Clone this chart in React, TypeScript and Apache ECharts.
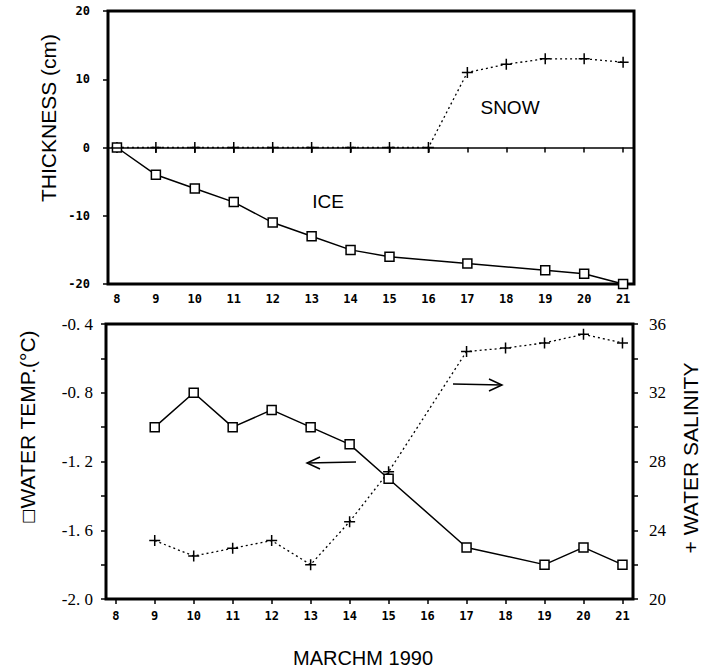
import React, { useEffect, useRef } from "react";
import * as echarts from "echarts";

const days = [8, 9, 10, 11, 12, 13, 14, 15, 16, 17, 18, 19, 20, 21];

const iceDays = [8, 9, 10, 11, 12, 13, 14, 15, 17, 19, 20, 21];
const iceThickness = [0, -4, -6, -8, -11, -13, -15, -16, -17, -18, -18.5, -20];

const snowDays = [8, 9, 10, 11, 12, 13, 14, 15, 16, 17, 18, 19, 20, 21];
const snowThickness = [0, 0, 0, 0, 0, 0, 0, 0, 0, 11, 12.2, 13, 13, 12.5];

const tempDays = [9, 10, 11, 12, 13, 14, 15, 17, 19, 20, 21];
const waterTemp = [-1.0, -0.8, -1.0, -0.9, -1.0, -1.1, -1.3, -1.7, -1.8, -1.7, -1.8];

const salDays = [9, 10, 11, 12, 13, 14, 15, 17, 18, 19, 20, 21];
const salinity = [23.4, 22.5, 22.95, 23.4, 22.0, 24.5, 27.4, 34.4, 34.6, 34.9, 35.4, 34.9];

const PLUS = "path://M0,5L10,5M5,0L5,10";

const zip = (xs: number[], ys: number[]) => xs.map((x, i) => [x, ys[i]]);

export default function App() {
  const ref = useRef<HTMLDivElement>(null);
  useEffect(() => {
    if (!ref.current) return;
    const chart = echarts.init(ref.current, null, { renderer: "svg" });
    const monoBold = { fontFamily: "DejaVu Sans Mono", fontWeight: "bold" as const, fontSize: 12, color: "#000" };
    const serifNum = { fontFamily: "Liberation Serif", fontSize: 17, color: "#000" };
    const tick = { show: true, inside: false, length: 5, lineStyle: { color: "#000", width: 1.5 } };
    const xCommon = (gi: number, min: number, max: number, margin: number) => ({
      type: "value" as const,
      gridIndex: gi,
      min,
      max,
      axisLine: { show: false },
      splitLine: { show: false },
      axisTick: { ...tick, customValues: days },
      axisLabel: { ...monoBold, customValues: days, margin },
    });
    const option: any = {
      animation: false,
      backgroundColor: "#fff",
      grid: [
        { left: 108, top: 11, width: 526, height: 273, show: true, borderColor: "#000", borderWidth: 3, backgroundColor: "transparent" },
        { left: 106, top: 324, width: 527, height: 275, show: true, borderColor: "#000", borderWidth: 3, backgroundColor: "transparent" },
      ],
      xAxis: [xCommon(0, 7.77, 21.28, 9), xCommon(1, 7.75, 21.27, 11)],
      yAxis: [
        {
          type: "value",
          gridIndex: 0,
          min: -20,
          max: 20,
          interval: 10,
          axisLine: { show: false },
          splitLine: { show: false },
          axisTick: tick,
          axisLabel: { ...monoBold, margin: 18 },
        },
        {
          type: "value",
          gridIndex: 1,
          min: -2.0,
          max: -0.4,
          interval: 0.2,
          axisLine: { show: false },
          splitLine: { show: false },
          axisTick: tick,
          axisLabel: {
            ...serifNum,
            margin: 13,
            formatter: (v: number) => {
              const k = Math.round((v + 2) / 0.2);
              return k % 2 === 0 ? v.toFixed(1).replace(".", ". ") : "";
            },
          },
        },
        {
          type: "value",
          gridIndex: 1,
          position: "right",
          min: 20,
          max: 36,
          interval: 2,
          axisLine: { show: false },
          splitLine: { show: false },
          axisTick: tick,
          axisLabel: {
            ...serifNum,
            margin: 16,
            formatter: (v: number) => (Math.round(v) % 4 === 0 ? String(v) : ""),
          },
        },
      ],
      series: [
        {
          name: "SNOW",
          type: "line",
          xAxisIndex: 0,
          yAxisIndex: 0,
          data: zip(snowDays, snowThickness),
          symbol: PLUS,
          symbolSize: 11,
          itemStyle: { color: "transparent", borderColor: "#000", borderWidth: 1.5 },
          lineStyle: { color: "#000", width: 1.3, type: [2, 3] },
          markLine: {
            silent: true,
            symbol: "none",
            label: { show: false },
            lineStyle: { color: "#000", width: 1.6, type: "solid" },
            data: [{ yAxis: 0 }],
          },
          z: 3,
        },
        {
          name: "ICE",
          type: "line",
          xAxisIndex: 0,
          yAxisIndex: 0,
          data: zip(iceDays, iceThickness),
          symbol: "rect",
          symbolSize: 9,
          itemStyle: { color: "#fff", borderColor: "#000", borderWidth: 1.5 },
          lineStyle: { color: "#000", width: 1.5 },
          z: 4,
        },
        {
          name: "WATER TEMP",
          type: "line",
          xAxisIndex: 1,
          yAxisIndex: 1,
          data: zip(tempDays, waterTemp),
          symbol: "rect",
          symbolSize: 9,
          itemStyle: { color: "#fff", borderColor: "#000", borderWidth: 1.5 },
          lineStyle: { color: "#000", width: 1.5 },
          z: 4,
        },
        {
          name: "WATER SALINITY",
          type: "line",
          xAxisIndex: 1,
          yAxisIndex: 2,
          data: zip(salDays, salinity),
          symbol: PLUS,
          symbolSize: 11,
          itemStyle: { color: "transparent", borderColor: "#000", borderWidth: 1.5 },
          lineStyle: { color: "#000", width: 1.3, type: [2, 3] },
          z: 3,
        },
      ],
      graphic: [
        {
          type: "text",
          x: 48,
          y: 118,
          rotation: Math.PI / 2,
          style: { text: "THICKNESS (cm)", fontFamily: "Liberation Sans", fontSize: 21, fill: "#000", align: "center", verticalAlign: "middle" },
        },
        {
          type: "text",
          x: 27,
          y: 427,
          rotation: Math.PI / 2,
          style: {
            text: "{sq|□}WATER TEMP.(°C)",
            fontFamily: "Liberation Sans",
            fontSize: 21,
            fill: "#000",
            align: "center",
            verticalAlign: "middle",
            rich: { sq: { fontFamily: "DejaVu Sans", fontSize: 16, fill: "#000" } },
          },
        },
        {
          type: "text",
          x: 690,
          y: 458,
          rotation: Math.PI / 2,
          style: { text: "+ WATER SALINITY", fontFamily: "Liberation Sans", fontSize: 21, fill: "#000", align: "center", verticalAlign: "middle" },
        },
        {
          type: "text",
          x: 363,
          y: 658,
          style: { text: "MARCHM 1990", fontFamily: "Liberation Sans", fontSize: 20, fill: "#000", align: "center", verticalAlign: "middle" },
        },
        {
          type: "text",
          x: 328,
          y: 201,
          style: { text: "ICE", fontFamily: "Liberation Sans", fontSize: 19, fill: "#000", align: "center", verticalAlign: "middle" },
        },
        {
          type: "text",
          x: 510,
          y: 107,
          style: { text: "SNOW", fontFamily: "Liberation Sans", fontSize: 19, fill: "#000", align: "center", verticalAlign: "middle" },
        },
        { type: "line", shape: { x1: 307, y1: 463, x2: 356, y2: 462 }, style: { stroke: "#000", lineWidth: 1.5 } },
        { type: "polyline", shape: { points: [[320, 457], [307, 463], [320, 469]] }, style: { stroke: "#000", lineWidth: 1.5, fill: "none" } },
        { type: "line", shape: { x1: 453, y1: 384, x2: 502, y2: 385 }, style: { stroke: "#000", lineWidth: 1.5 } },
        { type: "polyline", shape: { points: [[489, 379], [502, 385], [489, 391]] }, style: { stroke: "#000", lineWidth: 1.5, fill: "none" } },
      ],
    };
    chart.setOption(option);
    return () => chart.dispose();
  }, []);
  return <div ref={ref} style={{ position: "fixed", left: 0, top: 0, width: 704, height: 671 }} />;
}
